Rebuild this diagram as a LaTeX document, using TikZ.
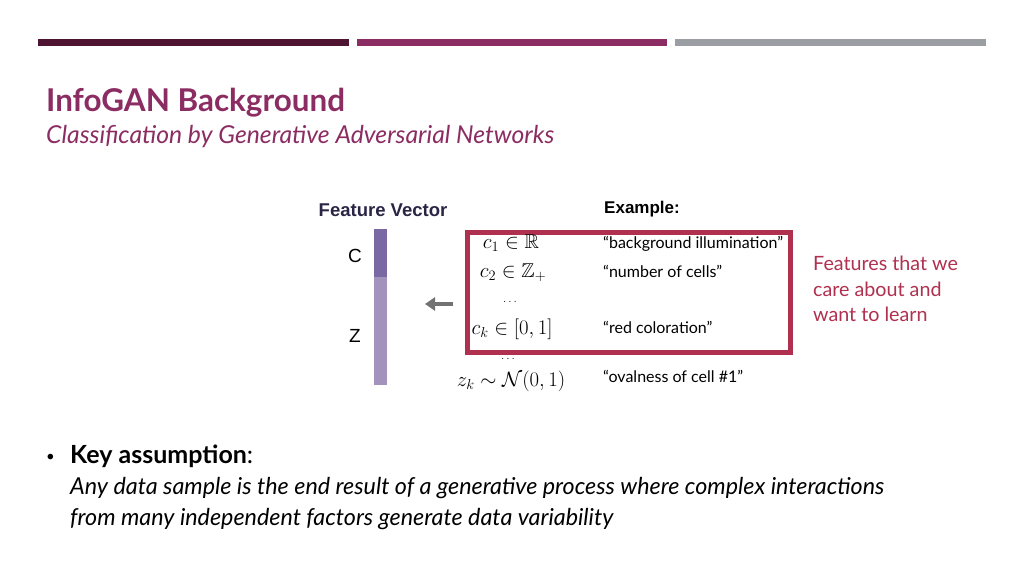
\documentclass[tikz,border=0pt]{standalone}
\usepackage{fontspec}
\usepackage{amssymb}
\setmainfont{Lato}
\newfontfamily\arialf{Liberation Sans}
\usetikzlibrary{arrows.meta}
\definecolor{barA}{HTML}{4E1431}
\definecolor{barB}{HTML}{8B2D62}
\definecolor{barC}{HTML}{9A9DA1}
\definecolor{titlec}{HTML}{8B2D62}
\definecolor{boxred}{HTML}{B0304F}
\definecolor{vecdark}{HTML}{7A68A3}
\definecolor{veclight}{HTML}{A392BC}
\definecolor{navy}{HTML}{2B2545}
\definecolor{arrowgray}{HTML}{727272}
\tikzset{
  txt/.style={inner sep=0pt, anchor=base west},
  mathl/.style={inner sep=0pt, anchor=base, font=\fontsize{20}{23}\selectfont},
  dotsl/.style={inner sep=0pt, anchor=base, font=\fontsize{13}{15}\selectfont},
  quote/.style={inner sep=0pt, anchor=base west, font=\fontsize{16}{19}\selectfont},
  side/.style={inner sep=0pt, anchor=base west, text=boxred, font=\fontsize{19.7}{23}\selectfont},
  vlabel/.style={inner sep=0pt, anchor=base, font=\arialf\fontsize{19}{21}\selectfont},
}
\begin{document}
\begin{tikzpicture}[x=1pt,y=-1pt]
\useasboundingbox (0,0) rectangle (1024,576);
\fill[white] (0,0) rectangle (1024,576);
% top bars
\fill[barA] (38,39) rectangle (349,46);
\fill[barB] (357,39) rectangle (667,46);
\fill[barC] (675,39) rectangle (986,46);
% titles
\node[txt, text=titlec, font=\bfseries\fontsize{31.4}{35}\selectfont] (title) at (46,111) {InfoGAN Background};
\node[txt, text=titlec, font=\itshape\fontsize{24.7}{28}\selectfont] (subtitle) at (46,143) {Classification by Generative Adversarial Networks};
% feature vector
\node[inner sep=0pt, anchor=base, text=navy, font=\arialf\bfseries\fontsize{18.5}{21}\selectfont] (fvlabel) at (383,216) {Feature Vector};
\fill[veclight] (374,277) rectangle (387,385);
\fill[vecdark] (374,229) rectangle (387,277);
\node[vlabel] (clab) at (355,262) {C};
\node[vlabel] (zlab) at (355,342) {Z};
% arrow
\coordinate (arrS) at (453,304);
\coordinate (arrE) at (425,304);
\draw[arrowgray, line width=4pt, -{Triangle[length=10pt,width=13pt]}] (arrS) -- (arrE);
% red box
\node[draw=boxred, line width=4.5pt, minimum width=323pt, minimum height=120pt, inner sep=0pt, anchor=north west] (redbox) at (465.25,230.25) {};
% example
\node[txt, font=\arialf\bfseries\fontsize{17}{20}\selectfont] (example) at (604,213) {Example:};
% math
\node[mathl] (m1) at (511,248) {$c_1 \in \mathbb{R}$};
\node[mathl] (m2) at (513,277) {$c_2 \in \mathbb{Z}_+$};
\node[dotsl] (m3) at (510,302) {$\ldots$};
\node[mathl] (m4) at (512,334) {$c_k \in [0,1]$};
\node[dotsl] (m5) at (508,359) {$\ldots$};
\node[mathl] (m6) at (511,386) {$z_k \sim \mathcal{N}(0,1)$};
% quotes
\node[quote] (q1) at (603,248) {``background illumination''};
\node[quote] (q2) at (603,277) {``number of cells''};
\node[quote] (q3) at (603,333) {``red coloration''};
\node[quote] (q4) at (603,382) {``ovalness of cell \#1''};
% side text
\node[side] (s1) at (813,270) {Features that we};
\node[side] (s2) at (813,296) {care about and};
\node[side] (s3) at (813,321) {want to learn};
% bullet
\node[txt, font=\fontsize{15}{18}\selectfont] (bullet) at (46,461) {\textbullet};
\node[txt, font=\fontsize{25}{29}\selectfont] (key) at (70,463) {\textbf{Key assumption}:};
\node[txt, font=\itshape\fontsize{23.3}{27}\selectfont] (l1) at (70,494) {Any data sample is the end result of a generative process where complex interactions};
\node[txt, font=\itshape\fontsize{23.3}{27}\selectfont] (l2) at (70,525) {from many independent factors generate data variability};
\end{tikzpicture}
\end{document}
